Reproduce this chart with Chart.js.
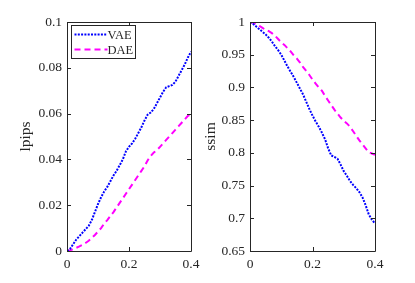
<!DOCTYPE html>
<html><head><meta charset="utf-8">
<script src="https://cdn.jsdelivr.net/npm/chart.js@4/dist/chart.umd.min.js"></script>
<style>
html,body{margin:0;padding:0;background:#fff;}
#wrap{position:relative;width:415px;height:283px;overflow:hidden;}
#c1{position:absolute;left:0;top:0;}
#c2{position:absolute;left:200px;top:0;}
</style></head>
<body><div id="wrap"><canvas id="c1" width="205" height="283"></canvas><canvas id="c2" width="215" height="283"></canvas></div>
<script>
const xs = [0,0.01,0.02,0.03,0.04,0.05,0.06,0.07,0.08,0.09,0.10,0.11,0.12,0.13,0.14,0.15,0.16,0.17,0.18,0.19,0.20,
            0.21,0.22,0.23,0.24,0.25,0.26,0.27,0.28,0.29,0.30,0.31,0.32,0.33,0.34,0.35,0.36,0.37,0.38,0.39,0.40];
const lpipsVAE = [0,0.001,0.003,0.005,0.0065,0.008,0.0095,0.011,0.0135,0.017,0.0205,0.0235,0.026,0.028,0.0305,0.033,0.035,0.0375,0.040,0.0435,0.0455,
                  0.047,0.049,0.0515,0.054,0.057,0.0595,0.0605,0.062,0.0645,0.067,0.0695,0.0715,0.072,0.0725,0.074,0.0765,0.079,0.0815,0.0845,0.087];
const lpipsDAE = [0,0.0003,0.0008,0.0014,0.002,0.0027,0.0035,0.0045,0.0057,0.007,0.0085,0.010,0.012,0.0135,0.0153,0.017,0.019,0.021,0.023,0.025,0.027,
                  0.029,0.031,0.033,0.035,0.037,0.0395,0.0415,0.043,0.044,0.0455,0.047,0.0485,0.050,0.0515,0.053,0.0545,0.056,0.0575,0.059,0.0598];
const ssimVAE = [1.0,0.997,0.993,0.989,0.985,0.981,0.976,0.970,0.963,0.957,0.950,0.941,0.932,0.924,0.916,0.907,0.898,0.889,0.878,0.867,0.857,
                 0.848,0.840,0.831,0.821,0.807,0.796,0.794,0.791,0.782,0.772,0.765,0.757,0.751,0.746,0.740,0.732,0.720,0.706,0.698,0.692];
const ssimDAE = [1.0,0.999,0.997,0.994,0.991,0.988,0.986,0.983,0.979,0.974,0.969,0.965,0.960,0.955,0.949,0.944,0.938,0.931,0.925,0.919,0.912,
                 0.906,0.900,0.895,0.887,0.880,0.873,0.866,0.860,0.854,0.849,0.845,0.840,0.833,0.826,0.819,0.813,0.807,0.801,0.799,0.797];
const xTicks = [0,0.2,0.4];
const lpipsTicks = [0,0.02,0.04,0.06,0.08,0.1];
const ssimTicks = [0.65,0.7,0.75,0.8,0.85,0.9,0.95,1];
const seriesNames = ['VAE','DAE'];

const TXT = '#262626';
const FONT = 'Liberation Serif';

const boxPlugin = {
  id:'box',
  afterDatasetsDraw(chart){
    const {ctx, chartArea:a, scales} = chart;
    ctx.save();
    ctx.strokeStyle = TXT; ctx.lineWidth = 1;
    ctx.beginPath();
    ctx.rect(Math.round(a.left)+0.5, Math.round(a.top)+0.5, Math.round(a.right-a.left), Math.round(a.bottom-a.top));
    ctx.stroke();
    const L = 4;
    ctx.beginPath();
    scales.x.ticks.forEach(t=>{
      const px = Math.round(scales.x.getPixelForValue(t.value))+0.5;
      ctx.moveTo(px,a.bottom); ctx.lineTo(px,a.bottom-L);
      ctx.moveTo(px,a.top); ctx.lineTo(px,a.top+L);
    });
    scales.y.ticks.forEach(t=>{
      const py = Math.round(scales.y.getPixelForValue(t.value))+0.5;
      ctx.moveTo(a.left,py); ctx.lineTo(a.left+L,py);
      ctx.moveTo(a.right,py); ctx.lineTo(a.right-L,py);
    });
    ctx.stroke();
    // legend
    if (chart.options.plugins.box && chart.options.plugins.box.legend){
      const lx = a.left+4.5, ly = a.top+3.5, w = 64, h = 33;
      ctx.fillStyle='#fff'; ctx.fillRect(lx,ly,w,h);
      ctx.strokeStyle = TXT; ctx.lineWidth=1; ctx.strokeRect(lx,ly,w,h);
      ctx.font = '12.5px "'+FONT+'"'; ctx.textBaseline='middle'; ctx.textAlign='left';
      chart.data.datasets.forEach((ds,i)=>{
        const yy = ly + 9 + i*15;
        ctx.save();
        ctx.strokeStyle = ds.borderColor; ctx.lineWidth = ds.borderWidth;
        ctx.setLineDash(ds.borderDash);
        ctx.beginPath(); ctx.moveTo(lx+3,yy); ctx.lineTo(lx+36,yy); ctx.stroke();
        ctx.restore();
        ctx.fillStyle = TXT;
        ctx.fillText(ds.label, lx+36, yy+1);
      });
    }
    ctx.restore();
  }
};

function pts(ys){ return xs.map((x,i)=>({x:x,y:ys[i]})); }
function fmt(v){ return String(+v.toFixed(4)); }

function makeChart(id, ys1, ys2, yTicks, ymin, ymax, title, yWidth, titlePad, padRight, legend){
  return new Chart(document.getElementById(id), {
    type:'line',
    data:{datasets:[
      {label:seriesNames[0], data:pts(ys1), borderColor:'#0000ff', borderWidth:2, borderDash:[2,1.3], pointRadius:0, tension:0, fill:false},
      {label:seriesNames[1], data:pts(ys2), borderColor:'#ff00ff', borderWidth:2, borderDash:[6,4], pointRadius:0, tension:0, fill:false}
    ]},
    options:{
      responsive:false, animation:false, devicePixelRatio:1,
      layout:{padding:{top:22,right:padRight,bottom:0,left:0}},
      plugins:{legend:{display:false}, tooltip:{enabled:false}, box:{legend:legend}},
      scales:{
        x:{type:'linear', min:0, max:0.4,
           afterBuildTicks:s=>{s.ticks = xTicks.map(v=>({value:v}));},
           afterFit:s=>{s.height = 32;},
           grid:{display:false, drawTicks:false}, border:{display:false},
           ticks:{padding:5, color:TXT, font:{family:FONT,size:13.5}, maxRotation:0, callback:v=>fmt(v)}},
        y:{type:'linear', min:ymin, max:ymax,
           afterBuildTicks:s=>{s.ticks = yTicks.map(v=>({value:v}));},
           afterFit:s=>{s.width = yWidth;},
           grid:{display:false, drawTicks:false}, border:{display:false},
           title:{display:true, text:title, color:TXT, font:{family:FONT,size:15.5}, padding:{top:titlePad,bottom:0}},
           ticks:{padding:5, color:TXT, font:{family:FONT,size:13.5}, callback:v=>fmt(v)}}
      }
    },
    plugins:[boxPlugin]
  });
}

makeChart('c1', lpipsVAE, lpipsDAE, lpipsTicks, 0, 0.1, 'lpips', 67, 17, 14, true);
makeChart('c2', ssimVAE, ssimDAE, ssimTicks, 0.65, 1, 'ssim', 50, 2, 40, false);
</script>
</body></html>
